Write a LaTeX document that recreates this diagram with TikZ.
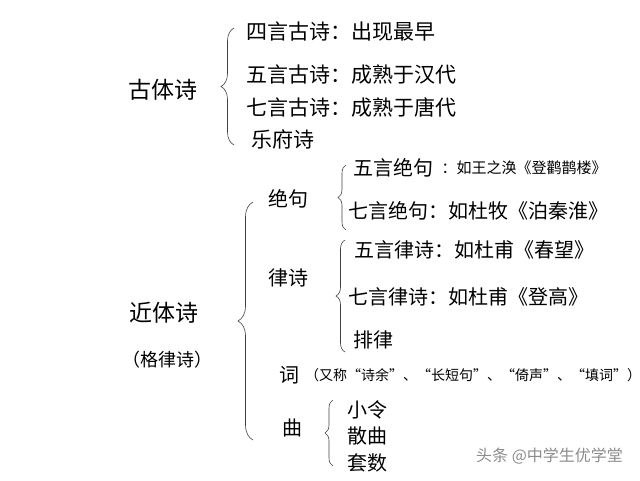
\documentclass[tikz,border=0pt]{standalone}
\usepackage{fontspec}
\setmainfont{Noto Sans CJK SC}
\usepackage{xcolor}
\usepackage{tikz}
\usetikzlibrary{positioning,decorations.pathreplacing}

\begin{document}
\begin{tikzpicture}[x=1pt,y=-1pt,
  big/.style={font=\fontsize{23}{23}\selectfont},
  item/.style={anchor=west,inner sep=0pt,font=\fontsize{20}{20}\selectfont},
  note/.style={anchor=west,inner sep=0pt,font=\fontsize{14}{14}\selectfont},
  brace/.style={decorate,decoration={brace,amplitude=#1},draw=black!75,line width=0.6pt}]
\useasboundingbox (0,0) rectangle (640,480);
% ancient-style poetry
\node[big] (gt) at (163,90) {古体诗};
\coordinate (gtS) at (234,145); \coordinate (gtN) at (234,28);
\draw[brace=13pt] (gtS) -- (gtN);
\node[item,font=\fontsize{21}{21}\selectfont] (g1) at (246,32) {四言古诗：出现最早};
\node[item,font=\fontsize{21}{21}\selectfont] (g2) at (246,75) {五言古诗：成熟于汉代};
\node[item,font=\fontsize{21}{21}\selectfont] (g3) at (246,107) {七言古诗：成熟于唐代};
\node[item,font=\fontsize{21}{21}\selectfont] (g4) at (251,139) {乐府诗};
% modern-style poetry
\node[big] (jt) at (164,313) {近体诗};
\node[font=\fontsize{18}{18}\selectfont] (gl) at (167,360) {（格律诗）};
\coordinate (jtS) at (253,440); \coordinate (jtN) at (253,202);
\draw[brace=15pt] (jtS) -- (jtN);
\node[item,anchor=center] (jj) at (288,199) {绝句};
\node[item,anchor=center] (ls) at (288,278) {律诗};
\node[item,anchor=center] (ci) at (289,375) {词};
\node[item,anchor=center] (qu) at (292,428) {曲};
% jueju
\coordinate (jjS) at (346,230); \coordinate (jjN) at (346,165);
\draw[brace=8pt] (jjS) -- (jjN);
\node[item] (jj5) at (353,168) {五言绝句};
\node[note,font=\fontsize{15}{15}\selectfont,right=8pt of jj5] (jj5n) {：如王之涣《登鹳鹊楼》};
\node[item] (jj7) at (348,211) {七言绝句：如杜牧《泊秦淮》};
% lüshi
\coordinate (lsS) at (345,352); \coordinate (lsN) at (345,240);
\draw[brace=9pt] (lsS) -- (lsN);
\node[item] (ls5) at (354,250) {五言律诗：如杜甫《春望》};
\node[item] (ls7) at (348,297) {七言律诗：如杜甫《登高》};
\node[item] (pl) at (353,340) {排律};
% ci
\node[note] (cin) at (305,375) {（又称“诗余”、“长短句”、“倚声”、“填词”）};
% qu
\coordinate (quS) at (333,466); \coordinate (quN) at (333,400);
\draw[brace=8pt] (quS) -- (quN);
\node[item] (q1) at (347,410) {小令};
\node[item] (q2) at (347,436) {散曲};
\node[item] (q3) at (347,463) {套数};
\node[note,text=black!45,font=\fontsize{16}{16}\selectfont] (wm) at (476,456) {头条 @中学生优学堂};
\end{tikzpicture}
\end{document}
